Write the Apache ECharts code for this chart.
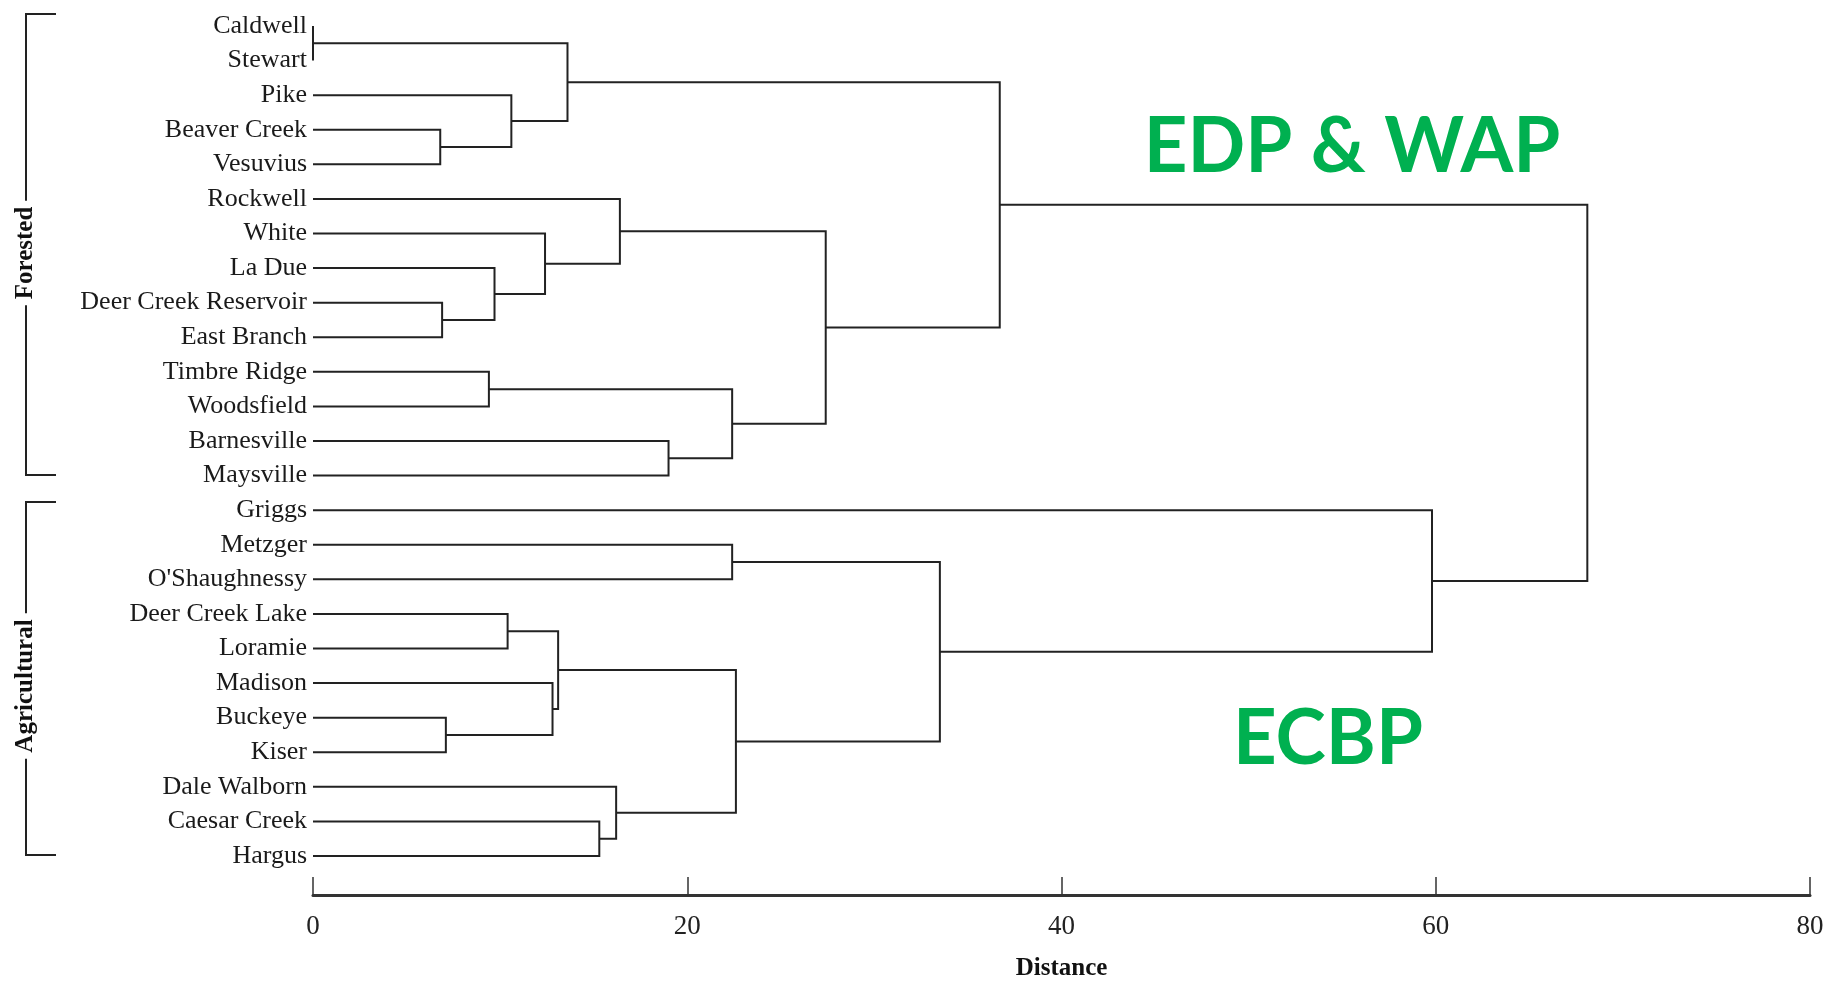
<!DOCTYPE html>
<html>
<head>
    <meta charset="utf-8">
    <title>Dendrogram</title>
    <script src="https://cdn.jsdelivr.net/npm/echarts@6/dist/echarts.min.js"></script>
    <style>
        html, body { margin: 0; padding: 0; background: #fff; }
        #chart { width: 1839px; height: 981px; }
    </style>
</head>
<body>
<div id="chart"></div>
<script>
    // leaves, top to bottom
    var leaves = ['Caldwell', 'Stewart', 'Pike', 'Beaver Creek', 'Vesuvius', 'Rockwell', 'White', 'La Due',
        'Deer Creek Reservoir', 'East Branch', 'Timbre Ridge', 'Woodsfield', 'Barnesville', 'Maysville',
        'Griggs', 'Metzger', "O'Shaughnessy", 'Deer Creek Lake', 'Loramie', 'Madison', 'Buckeye', 'Kiser',
        'Dale Walborn', 'Caesar Creek', 'Hargus'];

    // merges: ids 0..24 are leaves, merge k makes node 25+k
    var mergeA = [0, 3, 2, 25, 8, 7, 6, 5, 10, 12, 33, 32, 28, 15, 17, 20, 19, 39, 23, 22, 42, 38, 14, 37];
    var mergeB = [1, 4, 26, 27, 9, 29, 30, 31, 11, 13, 34, 35, 36, 16, 18, 21, 40, 41, 24, 43, 44, 45, 46, 47];
    var mergeH = [0.0, 6.8, 10.6, 13.6, 6.9, 9.7, 12.4, 16.4, 9.4, 19.0, 22.4, 27.4, 36.7, 22.4, 10.4, 7.1,
        12.8, 13.1, 15.3, 16.2, 22.6, 33.5, 59.8, 68.1];

    var xTicks = [0, 20, 40, 60, 80];

    // node positions (height, row) from the tree
    var nodeH = [], nodeY = [];
    leaves.forEach(function (n, i) { nodeH[i] = 0; nodeY[i] = i; });
    var links = [];
    mergeA.forEach(function (a, k) {
        var b = mergeB[k], id = leaves.length + k;
        nodeH[id] = mergeH[k];
        nodeY[id] = (nodeY[a] + nodeY[b]) / 2;
        links.push([nodeH[a], nodeY[a], mergeH[k], nodeH[b], nodeY[b]]);
    });

    var chart = echarts.init(document.getElementById('chart'));
    var serif = '"Liberation Serif", "Times New Roman", serif';

    var option = {
        backgroundColor: '#fff',
        animation: false,
        grid: { left: 313, right: 29, top: 26, bottom: 125, outerBoundsMode: 'none', containLabel: false },
        xAxis: {
            type: 'value',
            position: 'bottom',
            min: xTicks[0],
            max: xTicks[xTicks.length - 1],
            interval: 20,
            offset: 39,
            name: 'Distance',
            nameLocation: 'middle',
            nameGap: 61,
            nameTextStyle: { fontFamily: serif, fontWeight: 'bold', fontSize: 25, color: '#111' },
            axisLine: { onZero: false, lineStyle: { color: '#333', width: 3 } },
            axisTick: { inside: true, length: 18, lineStyle: { color: '#333', width: 1.5 } },
            axisLabel: { fontFamily: serif, fontSize: 27, color: '#222', margin: 18 },
            splitLine: { show: false }
        },
        yAxis: [{
            type: 'category',
            data: leaves,
            inverse: true,
            boundaryGap: false,
            axisLine: { show: false },
            axisTick: { show: false },
            axisLabel: { fontFamily: serif, fontSize: 26, color: '#1a1a1a', margin: 6 }
        }, {
            type: 'value',
            min: 0,
            max: leaves.length - 1,
            inverse: true,
            show: false
        }],
        graphic: [
            { type: 'polyline', shape: { points: [[56, 14], [26, 14], [26, 475], [56, 475]] },
              style: { stroke: '#222', lineWidth: 2, fill: null } },
            { type: 'text', x: 26, y: 253, rotation: Math.PI / 2,
              style: { text: 'Forested', font: 'bold 25px ' + serif, fill: '#111',
                       align: 'center', verticalAlign: 'middle', backgroundColor: '#fff', padding: [0, 6] } },
            { type: 'polyline', shape: { points: [[56, 502], [26, 502], [26, 855], [56, 855]] },
              style: { stroke: '#222', lineWidth: 2, fill: null } },
            { type: 'text', x: 26, y: 686, rotation: Math.PI / 2,
              style: { text: 'Agricultural', font: 'bold 25px ' + serif, fill: '#111',
                       align: 'center', verticalAlign: 'middle', backgroundColor: '#fff', padding: [0, 6] } },
            { type: 'text', x: 1352, y: 147,
              style: { text: 'EDP & WAP', font: 'bold 76px Lato, "Open Sans", sans-serif', fill: '#00B050',
                       align: 'center', verticalAlign: 'middle' } },
            { type: 'text', x: 1328, y: 739,
              style: { text: 'ECBP', font: 'bold 76px Lato, "Open Sans", sans-serif', fill: '#00B050',
                       align: 'center', verticalAlign: 'middle' } }
        ],
        series: [{
            type: 'custom',
            xAxisIndex: 0,
            yAxisIndex: 1,
            data: links,
            renderItem: function (params, api) {
                var p1 = api.coord([api.value(0), api.value(1)]);
                var p2 = api.coord([api.value(2), api.value(1)]);
                var p3 = api.coord([api.value(2), api.value(4)]);
                var p4 = api.coord([api.value(3), api.value(4)]);
                return {
                    type: 'polyline',
                    shape: { points: [p1, p2, p3, p4] },
                    style: { stroke: '#222', lineWidth: 2, fill: null }
                };
            }
        }]
    };

    chart.setOption(option);
</script>
</body>
</html>
